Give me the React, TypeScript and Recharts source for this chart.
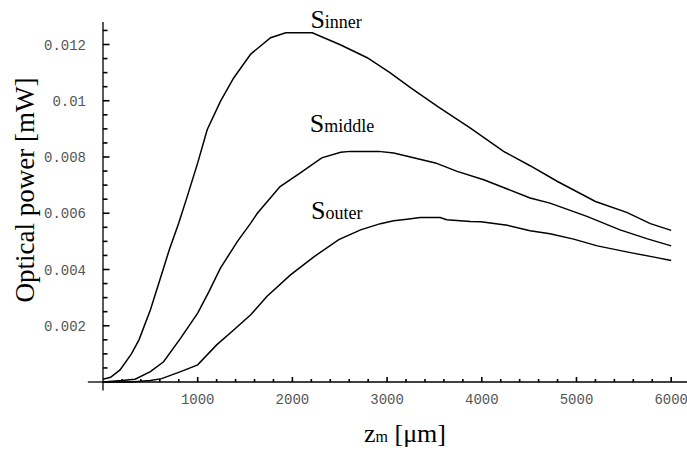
import { LineChart, Line, XAxis, YAxis, ReferenceLine, ReferenceDot } from "recharts";

// z position in µm and optical power in mW
const innerZ = [0, 80, 180, 300, 380, 500, 600, 700, 800, 890, 1000, 1100, 1240, 1380, 1560, 1770, 1930, 2210, 2500, 2790, 3030, 3250, 3540, 3880, 4230, 4510, 4800, 5200, 5530, 5780, 6000];
const innerPower = [0.0001, 0.00017, 0.00043, 0.001, 0.0015, 0.00256, 0.00363, 0.0047, 0.00565, 0.0066, 0.00779, 0.00897, 0.00998, 0.01081, 0.01166, 0.01224, 0.01242, 0.01242, 0.012, 0.01153, 0.011, 0.01046, 0.00978, 0.00903, 0.0082, 0.00769, 0.00713, 0.00642, 0.00603, 0.00563, 0.00539];

const middleZ = [0, 200, 340, 500, 640, 820, 1000, 1120, 1240, 1420, 1560, 1630, 1870, 2080, 2310, 2510, 2610, 2910, 3070, 3280, 3510, 3740, 4020, 4270, 4510, 4720, 5110, 5460, 5750, 6000];
const middlePower = [0, 0.00005, 0.0001, 0.00037, 0.00072, 0.00156, 0.00245, 0.00322, 0.00405, 0.005, 0.00565, 0.006, 0.00695, 0.00743, 0.00797, 0.00817, 0.0082, 0.0082, 0.00814, 0.00797, 0.00779, 0.00749, 0.00719, 0.00686, 0.00654, 0.00636, 0.00589, 0.00541, 0.00509, 0.00484];

const outerZ = [0, 300, 500, 620, 820, 1000, 1200, 1380, 1560, 1730, 1980, 2230, 2490, 2720, 2930, 3070, 3210, 3350, 3560, 3630, 3880, 3990, 4270, 4510, 4720, 4970, 5220, 5570, 5820, 6000];
const outerPower = [0, 0, 0.00005, 0.00012, 0.00037, 0.00061, 0.00132, 0.00185, 0.00239, 0.00304, 0.00381, 0.00446, 0.00506, 0.00541, 0.00563, 0.00573, 0.00579, 0.00585, 0.00585, 0.00577, 0.00571, 0.0057, 0.00557, 0.00538, 0.00527, 0.00508, 0.00484, 0.0046, 0.00444, 0.00432];

const xTickLabels = [1000, 2000, 3000, 4000, 5000, 6000];
const yTickValues = [0.002, 0.004, 0.006, 0.008, 0.01, 0.012];
const yTickLabels = ["0.002", "0.004", "0.006", "0.008", "0.01", "0.012"];

// minor ticks: every 200 µm / every 0.0005 mW
const xTicks = Array.from({ length: 31 }, (_, i) => i * 200);
const yTicks = Array.from({ length: 26 }, (_, i) => +(i * 0.0005).toFixed(4));

const toPoints = (zs: number[], ps: number[]) => zs.map((z, i) => ({ z, p: ps[i] }));

const serif = "'Liberation Serif', 'Times New Roman', serif";
const mono = "'Liberation Mono', 'Courier New', monospace";

// ticks point into the plot, like the axes of the original
const XTick = (props: any) => {
  const { x, y, payload } = props;
  const v = payload.value;
  if (v === 0) return <g />;
  const major = xTickLabels.includes(v);
  return (
    <g>
      <line x1={x} x2={x} y1={y} y2={y - (major ? 5 : 3)} stroke="#000" strokeWidth={1.6} />
      {major && (
        <text x={x} y={y + 22} textAnchor="middle" fontFamily={mono} fontSize={14} fill="#555">
          {v}
        </text>
      )}
    </g>
  );
};

const YTick = (props: any) => {
  const { x, y, payload } = props;
  const v = payload.value;
  if (v === 0) return <g />;
  const idx = yTickValues.findIndex((t) => Math.abs(t - v) < 1e-7);
  return (
    <g>
      <line x1={x} x2={x + (idx >= 0 ? 6.5 : 4.5)} y1={y} y2={y} stroke="#000" strokeWidth={1.6} />
      {idx >= 0 && (
        <text x={x - 17} y={y + 5} textAnchor="end" fontFamily={mono} fontSize={14} fill="#555">
          {yTickLabels[idx]}
        </text>
      )}
    </g>
  );
};

const curveLabel = (name: string) => (props: any) => (
  <text x={props.cx} y={props.cy} fontFamily={serif} fill="#000">
    <tspan fontSize={26}>S</tspan>
    <tspan fontSize={18}>{name}</tspan>
  </text>
);

const xTitle = () => (
  <text x={364} y={442} fontFamily={serif} fill="#000" fontSize={26}>
    <tspan>z</tspan>
    <tspan fontSize={16}>m</tspan>
    <tspan> [μm]</tspan>
  </text>
);

const yTitle = () => (
  <text
    x={34}
    y={190}
    transform="rotate(-90, 34, 190)"
    textAnchor="middle"
    fontFamily={serif}
    fontSize={27}
    fill="#000"
  >
    Optical power [mW]
  </text>
);

export default function App() {
  return (
    <div style={{ position: "absolute", left: 0, top: 0, background: "#fff" }}>
      <LineChart width={687} height={456} margin={{ top: 22, right: 0, bottom: 0, left: 0 }}>
        <XAxis
          dataKey="z"
          type="number"
          domain={[0, 6167]}
          ticks={xTicks}
          interval={0}
          tickSize={0}
          tickMargin={0}
          tickLine={false}
          tick={<XTick />}
          axisLine={{ stroke: "#000", strokeWidth: 1.3 }}
          height={74}
          label={{ content: xTitle }}
        />
        <YAxis
          type="number"
          domain={[0, 0.0128]}
          ticks={yTicks}
          interval={0}
          tickSize={0}
          tickMargin={0}
          tickLine={false}
          tick={<YTick />}
          axisLine={{ stroke: "#000", strokeWidth: 1.3 }}
          width={103}
          label={{ content: yTitle }}
        />
        <ReferenceLine
          segment={[{ x: -160, y: 0 }, { x: 0, y: 0 }]}
          stroke="#000"
          strokeWidth={1.3}
          ifOverflow="visible"
        />
        <ReferenceLine
          segment={[{ x: 0, y: -0.0003 }, { x: 0, y: 0 }]}
          stroke="#000"
          strokeWidth={1.3}
          ifOverflow="visible"
        />
        <Line data={toPoints(innerZ, innerPower)} dataKey="p" type="linear" stroke="#000" strokeWidth={1.5} dot={false} isAnimationActive={false} />
        <Line data={toPoints(middleZ, middlePower)} dataKey="p" type="linear" stroke="#000" strokeWidth={1.5} dot={false} isAnimationActive={false} />
        <Line data={toPoints(outerZ, outerPower)} dataKey="p" type="linear" stroke="#000" strokeWidth={1.5} dot={false} isAnimationActive={false} />
        <ReferenceDot x={2190} y={0.0126} r={0} ifOverflow="visible" shape={curveLabel("inner")} />
        <ReferenceDot x={2183} y={0.00888} r={0} ifOverflow="visible" shape={curveLabel("middle")} />
        <ReferenceDot x={2197} y={0.00579} r={0} ifOverflow="visible" shape={curveLabel("outer")} />
      </LineChart>
    </div>
  );
}
